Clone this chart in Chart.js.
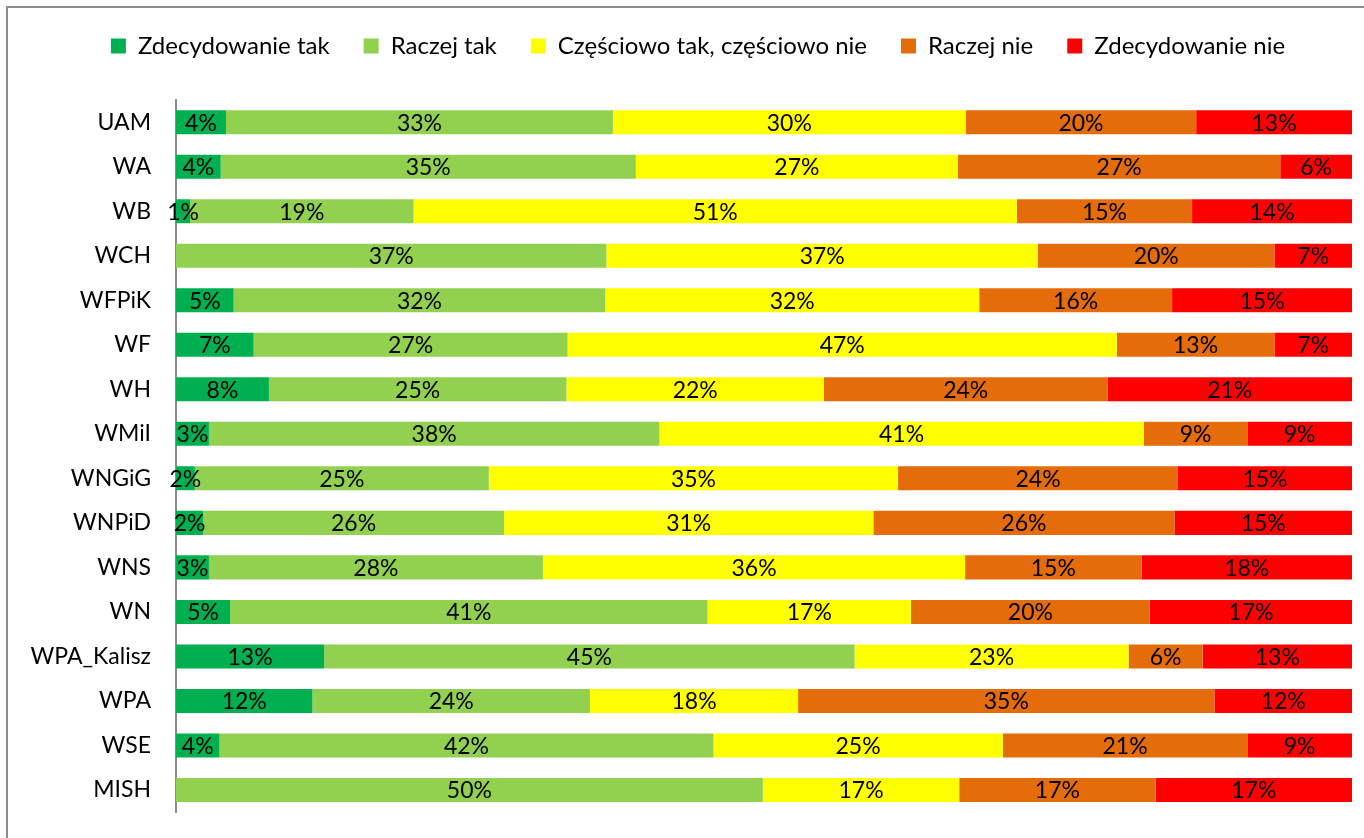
<!DOCTYPE html>
<html>
<head>
<meta charset="utf-8">
<script src="https://cdn.jsdelivr.net/npm/chart.js@4"></script>
<style>
  html, body { margin: 0; padding: 0; background: #fff; overflow: hidden; }
  #frame { position: absolute; left: 6px; top: 6px; width: 1400px; height: 900px; border: 2px solid #8c8c8c; }
  #chart { position: absolute; left: 0; top: 0; }
</style>
</head>
<body>
<div id="frame"></div>
<canvas id="chart" width="1364" height="851"></canvas>
<script>
const units = ["UAM", "WA", "WB", "WCH", "WFPiK", "WF", "WH", "WMiI", "WNGiG", "WNPiD", "WNS", "WN", "WPA_Kalisz", "WPA", "WSE", "MISH"];
const answers = ["Zdecydowanie tak", "Raczej tak", "Częściowo tak, częściowo nie", "Raczej nie", "Zdecydowanie nie"];
const colors = ["#00B050", "#92D050", "#FFFF00", "#E46C0A", "#FF0000"];

// percent of answers per unit, one array per answer
const definitelyYes = [4.25, 3.8, 1.2, 0, 4.9, 6.6, 7.9, 2.8, 1.6, 2.3, 2.8, 4.6, 12.6, 11.6, 3.7, 0];
const ratherYes     = [32.9, 35.3, 19.0, 36.6, 31.6, 26.7, 25.3, 38.3, 25.0, 25.6, 28.4, 40.6, 45.1, 23.6, 42.0, 49.9];
const partly        = [30.0, 27.4, 51.3, 36.7, 31.8, 46.7, 21.9, 41.2, 34.8, 31.4, 35.9, 17.3, 23.3, 17.7, 24.6, 16.7];
const ratherNo      = [19.6, 27.4, 14.9, 20.1, 16.4, 13.4, 24.1, 8.8, 23.8, 25.6, 15.0, 20.3, 6.3, 35.4, 20.8, 16.7];
const definitelyNo  = [13.25, 6.1, 13.6, 6.6, 15.3, 6.6, 20.8, 8.9, 14.8, 15.1, 17.9, 17.2, 12.7, 11.7, 8.9, 16.7];
const series = [definitelyYes, ratherYes, partly, ratherNo, definitelyNo];

const FONT = "Lato";
Chart.defaults.font.family = FONT;
Chart.defaults.color = "#000";

const barLabels = {
  id: "barLabels",
  afterDatasetsDraw(chart) {
    const ctx = chart.ctx;
    ctx.save();
    ctx.font = "23px " + FONT;
    ctx.fillStyle = "#000";
    ctx.textAlign = "center";
    ctx.textBaseline = "middle";
    chart.data.datasets.forEach((ds, i) => {
      chart.getDatasetMeta(i).data.forEach((bar, j) => {
        const v = ds.data[j];
        if (!v) return;
        ctx.fillText(Math.round(v) + "%", (bar.x + bar.base) / 2, bar.y + 1);
      });
    });
    ctx.restore();
  }
};

// legend takes the whole band above the plot, centred a bit right
const legendBox = {
  id: "legendBox",
  beforeInit(chart) {
    const fit = chart.legend.fit;
    chart.legend.fit = function () {
      fit.call(this);
      this.height = 100;
    };
  },
  afterLayout(chart) {
    chart.legend.left = 44;
  }
};

new Chart(document.getElementById("chart"), {
  type: "bar",
  data: {
    labels: units,
    datasets: answers.map((name, i) => ({
      label: name,
      data: series[i],
      backgroundColor: colors[i],
      borderWidth: 0,
      barPercentage: 0.54,
      categoryPercentage: 1
    }))
  },
  options: {
    indexAxis: "y",
    responsive: false,
    animation: false,
    layout: { padding: { top: 0, right: 12, bottom: 0, left: 0 } },
    plugins: {
      legend: {
        position: "top",
        labels: { boxWidth: 15, boxHeight: 15, padding: 34, font: { size: 24 } }
      },
      tooltip: { enabled: false }
    },
    scales: {
      x: { stacked: true, min: 0, max: 100, display: false },
      y: {
        stacked: true,
        grid: { display: false, drawTicks: false },
        border: { display: true, color: "#8c8c8c", width: 2 },
        ticks: { padding: 25, font: { size: 23 } },
        afterFit(scale) { scale.width = 176; }
      }
    }
  },
  plugins: [barLabels, legendBox]
});
</script>
</body>
</html>
